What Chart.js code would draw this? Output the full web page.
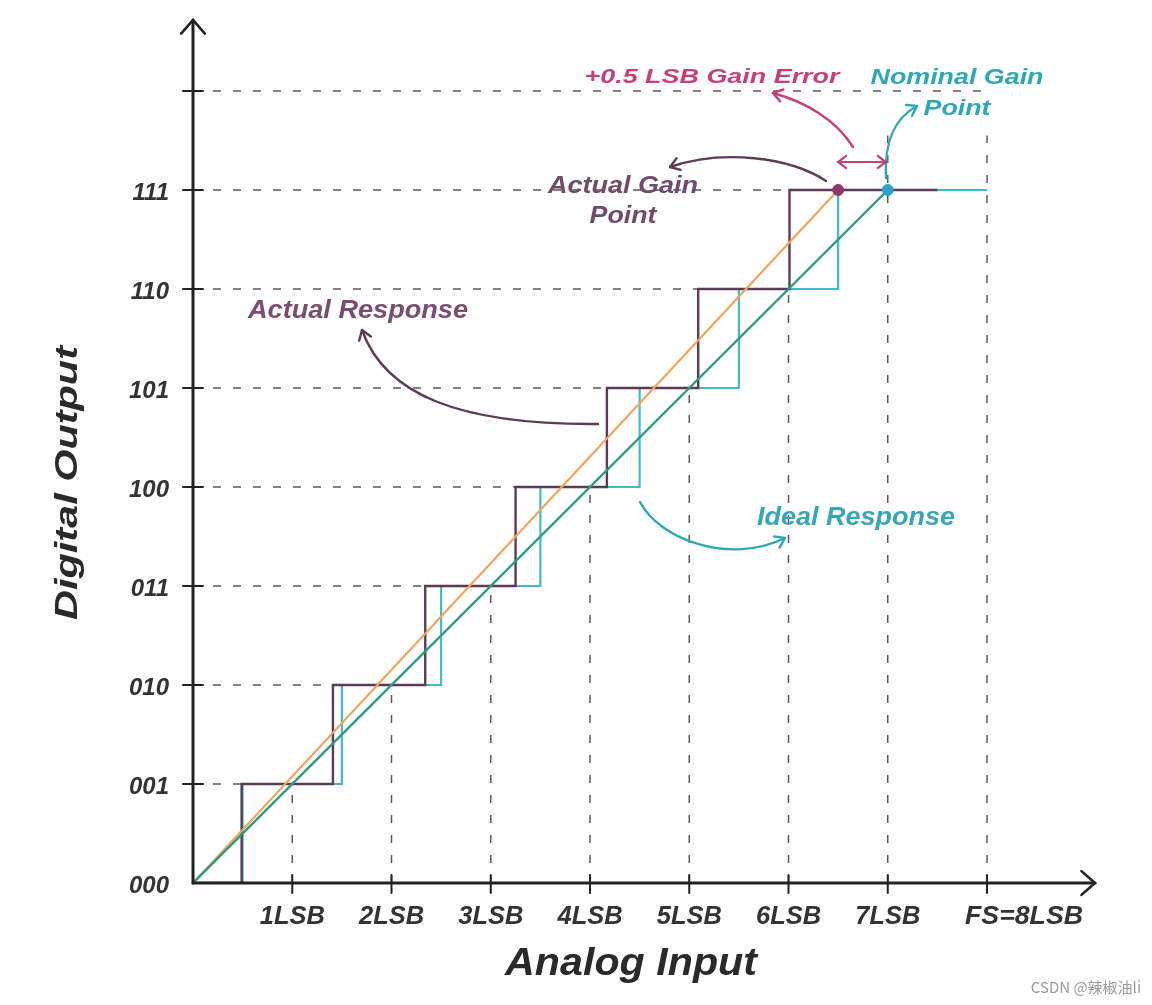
<!DOCTYPE html>
<html>
<head>
<meta charset="utf-8">
<script src="https://cdn.jsdelivr.net/npm/chart.js@4.4.1/dist/chart.umd.min.js"></script>
<style>
html,body{margin:0;padding:0;background:#fff;}
#wrap{width:1152px;height:1005px;}
</style>
</head>
<body>
<div id="wrap"><canvas id="c" width="1152" height="1005"></canvas></div>
<script>
// ---- data ----
const levelCodes = ['000','001','010','011','100','101','110','111'];
const lsbLabels = ['1LSB','2LSB','3LSB','4LSB','5LSB','6LSB','7LSB','FS=8LSB'];
const lsbValues = [1,2,3,4,5,6,7,8];
const idealTransitions = [0.5,1.5,2.5,3.5,4.5,5.5,6.5];
const actualTransitions = [0.49,1.41,2.34,3.25,4.17,5.09,6.01];
const idealEndX = 8;
const actualEndX = 7.5;
const actualGainPoint = [6.5, 7];
const nominalGainPoint = [7, 7];
const fullScaleLevel = 8;
const upperGuideTop = 7.55;

// ---- build datasets ----
function stepPoints(trans, endX){
  const pts=[{x:0,y:0}];
  trans.forEach((t,i)=>pts.push({x:t,y:i+1}));
  pts.push({x:endX,y:trans.length});
  return pts;
}
const dashStyle = {borderColor:'#5a5a5a', borderWidth:1.5, borderDash:[8,12], pointRadius:0, showLine:true, order:20, fill:false};
const datasets = [];
// horizontal dashed guides: level k from axis to actual transition
actualTransitions.forEach((t,i)=>{
  datasets.push(Object.assign({data:[{x:0,y:i+1},{x:t,y:i+1}]}, dashStyle));
});
datasets.push(Object.assign({data:[{x:0,y:fullScaleLevel},{x:idealEndX,y:fullScaleLevel}]}, dashStyle));
// vertical dashed guides
lsbValues.forEach(v=>{
  const top = v <= 6 ? v : upperGuideTop;
  datasets.push(Object.assign({data:[{x:v,y:0},{x:v,y:top}]}, dashStyle));
});
// ideal steps
datasets.push({data:stepPoints(idealTransitions, idealEndX), stepped:true, showLine:true, borderColor:'#3fbcc8', borderWidth:2.2, pointRadius:0, order:8});
// actual steps
datasets.push({data:stepPoints(actualTransitions, actualEndX), stepped:true, showLine:true, borderColor:'#5b3b56', borderWidth:2.4, pointRadius:0, order:7});
// orange actual gain line
datasets.push({data:[{x:0,y:0},{x:actualGainPoint[0],y:actualGainPoint[1]}], showLine:true, borderColor:'#f2a35c', borderWidth:2.2, pointRadius:0, order:5});
// green ideal line
datasets.push({data:[{x:0,y:0},{x:nominalGainPoint[0],y:nominalGainPoint[1]}], showLine:true, borderColor:'#2d9a82', borderWidth:2.4, pointRadius:0, order:4});
// gain points
datasets.push({data:[{x:actualGainPoint[0],y:actualGainPoint[1]}], showLine:false, pointRadius:5.5, pointBackgroundColor:'#8c3a6a', pointBorderColor:'#8c3a6a', order:1});
datasets.push({data:[{x:nominalGainPoint[0],y:nominalGainPoint[1]}], showLine:false, pointRadius:5.5, pointBackgroundColor:'#2aa3c9', pointBorderColor:'#2aa3c9', order:1});

// ---- drawing helpers ----
const FONT = '"Liberation Sans", Arial, sans-serif';
function txt(ctx, s, x, y, size, w, color, align, rot){
  ctx.save();
  ctx.translate(x,y);
  if(rot) ctx.rotate(rot);
  ctx.font = 'italic bold '+size+'px '+FONT;
  ctx.textAlign = align || 'center';
  ctx.textBaseline = 'middle';
  if (w){ const m = ctx.measureText(s).width; ctx.scale(w/m,1); }
  ctx.fillStyle = color;
  ctx.fillText(s,0,0);
  ctx.restore();
}
function head(ctx, x, y, ang, len, spread){
  ctx.beginPath();
  ctx.moveTo(x - len*Math.cos(ang-spread), y - len*Math.sin(ang-spread));
  ctx.lineTo(x,y);
  ctx.lineTo(x - len*Math.cos(ang+spread), y - len*Math.sin(ang+spread));
  ctx.stroke();
}
function curveArrow(ctx, p, color, w){
  ctx.save();
  ctx.strokeStyle=color; ctx.lineWidth=w; ctx.lineCap='round'; ctx.lineJoin='round';
  ctx.beginPath();
  ctx.moveTo(p[0][0],p[0][1]);
  ctx.bezierCurveTo(p[1][0],p[1][1],p[2][0],p[2][1],p[3][0],p[3][1]);
  ctx.stroke();
  const ang = Math.atan2(p[3][1]-p[2][1], p[3][0]-p[2][0]);
  head(ctx,p[3][0],p[3][1],ang,11,0.6);
  ctx.restore();
}

const overlay = {
  id:'overlay',
  afterDraw(chart){
    const ctx = chart.ctx, xs = chart.scales.x, ys = chart.scales.y, ca = chart.chartArea;
    const x0 = xs.getPixelForValue(0), y0 = ys.getPixelForValue(0);
    ctx.save();
    // axes
    ctx.strokeStyle='#222'; ctx.lineWidth=3; ctx.lineCap='round';
    ctx.beginPath(); ctx.moveTo(x0, y0); ctx.lineTo(x0, ca.top); ctx.stroke();
    ctx.beginPath(); ctx.moveTo(x0, y0); ctx.lineTo(ca.right, y0); ctx.stroke();
    ctx.lineWidth=2.6; ctx.lineJoin='miter';
    head(ctx, x0, ca.top, -Math.PI/2, 18, 0.72);
    head(ctx, ca.right, y0, 0, 18, 0.72);
    // tick marks
    ctx.lineWidth=2;
    for(let k=1;k<=fullScaleLevel;k++){
      const py = ys.getPixelForValue(k);
      ctx.beginPath(); ctx.moveTo(x0-10,py); ctx.lineTo(x0+10,py); ctx.stroke();
    }
    lsbValues.forEach(v=>{
      const px = xs.getPixelForValue(v);
      ctx.beginPath(); ctx.moveTo(px,y0-8); ctx.lineTo(px,y0+10); ctx.stroke();
    });
    // tick labels
    levelCodes.forEach((c,i)=>{
      txt(ctx, c, x0-24, ys.getPixelForValue(i)+3, 24, 0, '#333', 'right');
    });
    lsbLabels.forEach((l,i)=>{
      const px = xs.getPixelForValue(lsbValues[i]);
      if (i === lsbLabels.length-1) txt(ctx, l, px-22, y0+34, 25, 118, '#333', 'left');
      else txt(ctx, l, px, y0+34, 25, 65, '#333', 'center');
    });
    // axis titles
    txt(ctx, 'Analog Input', 631, 965, 38, 252, '#2a2a2a', 'center');
    txt(ctx, 'Digital Output', 68, 483, 32, 274, '#2a2a2a', 'center', -Math.PI/2);

    // annotations
    const pink='#c4407c', teal='#2ea8b5', mauve='#714b6a';
    txt(ctx, '+0.5 LSB Gain Error', 712, 77, 21, 255, pink, 'center');
    txt(ctx, 'Nominal Gain', 957, 78, 22, 173, teal, 'center');
    txt(ctx, 'Point', 957, 109, 22, 67, teal, 'center');
    txt(ctx, 'Actual Gain', 623, 187, 23, 150, mauve, 'center');
    txt(ctx, 'Point', 623, 217, 23, 67, mauve, 'center');
    txt(ctx, 'Actual Response', 358, 311, 25, 220, '#7a4d70', 'center');
    txt(ctx, 'Ideal Response', 856, 518, 25, 198, '#35a7b6', 'center');

    // arrows
    curveArrow(ctx, [[826,181],[790,157],[722,149],[670,167]], '#5e3c58', 2.4);
    curveArrow(ctx, [[853,147],[836,120],[806,102],[773,93]], pink, 2.4);
    curveArrow(ctx, [[886,178],[884,140],[895,118],[917,106]], teal, 2.4);
    curveArrow(ctx, [[598,424],[460,425],[385,395],[362,330]], '#5e3c58', 2.4);
    curveArrow(ctx, [[640,502],[660,540],[730,565],[785,538]], teal, 2.4);
    // double arrow (gain error span)
    const ax1 = xs.getPixelForValue(actualGainPoint[0]), ax2 = xs.getPixelForValue(nominalGainPoint[0]);
    ctx.strokeStyle=pink; ctx.lineWidth=2.2; ctx.lineCap='round';
    ctx.beginPath(); ctx.moveTo(ax1,162); ctx.lineTo(ax2-2,162); ctx.stroke();
    head(ctx, ax1, 162, Math.PI, 10, 0.65);
    head(ctx, ax2-2, 162, 0, 10, 0.65);

    // watermark
    ctx.font = '15px "Noto Sans CJK SC", "Noto Sans", sans-serif';
    ctx.fillStyle='#9a9a9a'; ctx.textAlign='right'; ctx.textBaseline='middle';
    ctx.fillText('CSDN @辣椒油li', 1141, 987);
    ctx.restore();
  }
};

new Chart(document.getElementById('c'), {
  type:'scatter',
  data:{datasets},
  options:{
    responsive:false, animation:false, devicePixelRatio:1,
    layout:{padding:{top:20,right:57,left:0,bottom:0}},
    plugins:{legend:{display:false}, tooltip:{enabled:false}},
    elements:{line:{tension:0}},
    scales:{
      x:{type:'linear', min:0, max:9.088, ticks:{display:false}, grid:{display:false}, border:{display:false},
         afterFit(s){ s.height = 122; }},
      y:{type:'linear', min:0, max:8.717, ticks:{display:false}, grid:{display:false}, border:{display:false},
         afterFit(s){ s.width = 193; }}
    }
  },
  plugins:[overlay]
});
</script>
</body>
</html>
